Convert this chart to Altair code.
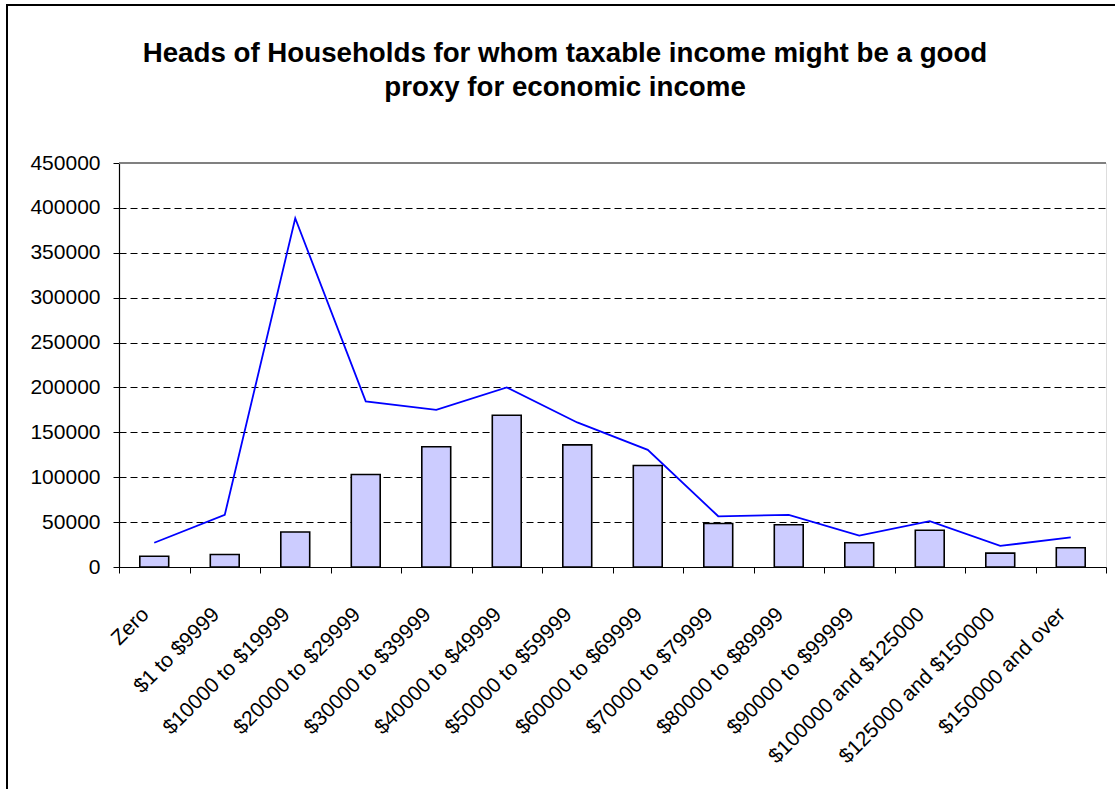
import altair as alt
import pandas as pd

categories = ["Zero", "$1 to $9999", "$10000 to $19999", "$20000 to $29999",
              "$30000 to $39999", "$40000 to $49999", "$50000 to $59999",
              "$60000 to $69999", "$70000 to $79999", "$80000 to $89999",
              "$90000 to $99999", "$100000 and $125000", "$125000 and $150000",
              "$150000 and over"]
bar_values = [12000, 14000, 39000, 103000, 134000, 169000, 136000, 113000,
              48500, 47000, 27000, 41000, 15500, 21500]
line_values = [27000, 58000, 388500, 184500, 175000, 200000, 161000, 130500,
               56500, 58000, 35000, 51000, 23500, 33000]
y_ticks = [0, 50000, 100000, 150000, 200000, 250000, 300000, 350000, 400000, 450000]
title_lines = ["Heads of Households for whom taxable income might be a good",
               "proxy for economic income"]

df = pd.DataFrame({"cat": categories, "bars": bar_values, "line": line_values})
title_df = pd.DataFrame({"t": [0]})

W, H = 987, 404
FONT = "Liberation Sans"

x_enc = alt.X("cat:N", sort=categories, title=None,
              scale=alt.Scale(paddingInner=0, paddingOuter=0),
              axis=alt.Axis(labelAngle=-45, labelAlign="right", labelBaseline="middle",
                            labelFontSize=21, labelFont=FONT, labelColor="black",
                            labelPadding=38, labelOffset=-9, labelLimit=400,
                            tickBand="extent", tickColor="black", tickSize=6,
                            domainColor="black", domainWidth=1.2, grid=False))
y_scale = alt.Scale(domain=[0, 450000], nice=False, zero=True)
y_axis = alt.Axis(values=y_ticks, format="d", title=None, labelFontSize=21,
                  labelFont=FONT, labelColor="black", labelPadding=13,
                  tickColor="black", tickSize=6, domainColor="black", domainWidth=1.2,
                  grid=True, gridColor="black", gridDash=[7, 4], gridWidth=1)

base = alt.Chart(df)

frame = base.mark_rect(fill=None, stroke="black", strokeWidth=2, clip=False).encode(
    x=alt.value(-112), x2=alt.value(W + 40), y=alt.value(-158), y2=alt.value(H + 260))

title = alt.Chart(title_df).mark_text(
    font=FONT, fontSize=27.7, fontWeight="bold", color="black", align="center",
    baseline="alphabetic", lineHeight=34).encode(
    x=alt.value(446), y=alt.value(-101), text=alt.value(title_lines))

bars = base.mark_bar(width=alt.RelativeBandSize(0.41), fill="#CCCCFF",
                     stroke="black", strokeWidth=1.6).encode(
    x=x_enc, y=alt.Y("bars:Q", scale=y_scale, axis=y_axis))

line = base.mark_line(color="#0000FF", strokeWidth=1.8).encode(
    x=alt.X("cat:N", sort=categories), y=alt.Y("line:Q", scale=y_scale))

top_border = base.mark_rule(color="#808080", strokeWidth=1.5).encode(
    x=alt.value(0), x2=alt.value(W), y=alt.value(0))

chart = alt.layer(frame, title, bars, line, top_border).properties(
    width=W, height=H,
    padding={"left": 119, "top": 163, "right": 9, "bottom": 222},
    autosize=alt.AutoSizeParams(type="none"),
).configure_view(stroke="#808080", strokeWidth=1.5).configure(background="white")

chart.save("out.html", embed_options={"renderer": "svg", "actions": False})
